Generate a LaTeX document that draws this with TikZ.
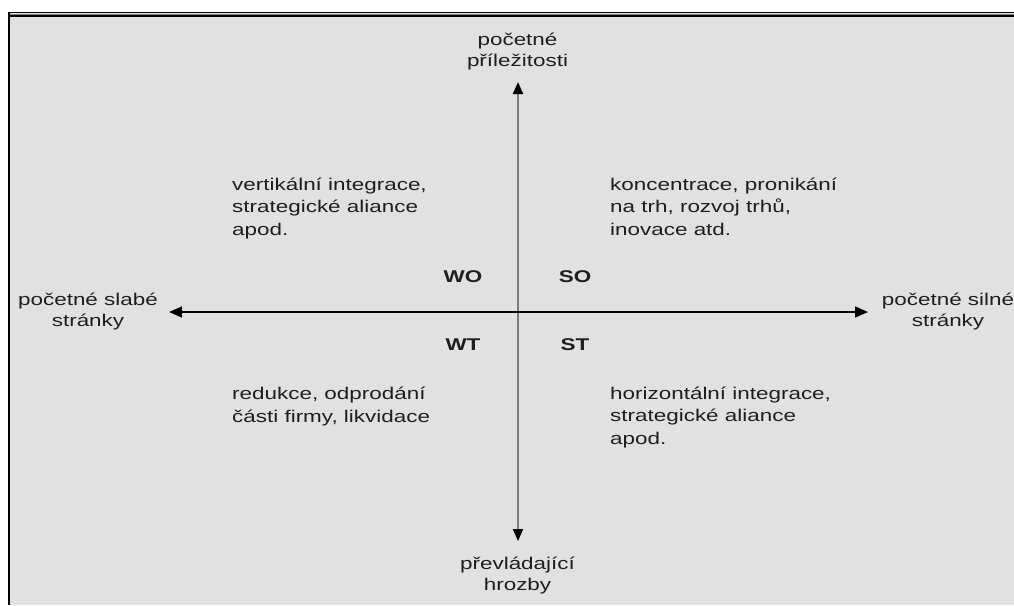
\documentclass[tikz,border=0pt]{standalone}
\usepackage{fontspec}
\setmainfont{Liberation Sans}[FakeStretch=1.32]
\usetikzlibrary{arrows.meta}
\definecolor{bg}{HTML}{E1E1E1}
\definecolor{txt}{HTML}{1E1E1E}
\definecolor{vline}{HTML}{7A7A7A}
\begin{document}
\begin{tikzpicture}[x=1pt,y=-1pt,
  lbl/.style={inner sep=0pt, text=txt},
  axlbl/.style={lbl, align=center, anchor=base, font=\fontsize{17}{21}\selectfont},
  quad/.style={lbl, align=left, anchor=base west, font=\fontsize{17}{22.5}\selectfont},
  tag/.style={lbl, anchor=base, font=\fontsize{17}{20}\selectfont\bfseries},
  axish/.style={draw=black, line width=1.3pt},
  axisv/.style={draw=vline, line width=2pt}]
\clip (0,0) rectangle (1014,605);
\fill[white] (0,0) rectangle (1014,605);
\fill[bg] (8,12) rectangle (1014,605);
% frame
\draw[black, line width=1.3pt] (8,12.7) -- (1014,12.7);
\draw[gray, line width=1.2pt] (8,14.4) -- (1014,14.4);
\draw[black, line width=1.3pt] (8,16) -- (1014,16);
\draw[black, line width=2pt] (9,12) -- (9,605);
% axes
\coordinate (N) at (518,82);
\coordinate (S) at (518,541);
\coordinate (W) at (169,312);
\coordinate (E) at (868,312);
\draw[axisv, {Triangle[length=12pt,width=10pt,color=black]}-{Triangle[length=12pt,width=10pt,color=black]}] (N) -- (S);
\draw[axish, {Triangle[length=13pt,width=11pt]}-{Triangle[length=13pt,width=11pt]}] (W) -- (E);
% axis labels (anchor = baseline of last line)
\node[axlbl] (top) at (517.5,66) {početné\\příležitosti};
\node[axlbl] (bot) at (517.5,590) {převládající\\hrozby};
\node[axlbl] (left) at (88,326) {početné slabé\\stránky};
\node[axlbl] (right) at (948,326) {početné silné\\stránky};
% tags
\node[tag] (wo) at (463,282) {WO};
\node[tag] (so) at (575,282) {SO};
\node[tag] (wt) at (463,350) {WT};
\node[tag] (st) at (575,350) {ST};
% quadrant texts (anchor = baseline of last line)
\node[quad] (q1) at (232,235) {vertikální integrace,\\strategické aliance\\apod.};
\node[quad] (q2) at (610,235) {koncentrace, pronikání\\na trh, rozvoj trhů,\\inovace atd.};
\node[quad] (q3) at (232,422) {redukce, odprodání\\části firmy, likvidace};
\node[quad] (q4) at (610,444) {horizontální integrace,\\strategické aliance\\apod.};
\end{tikzpicture}
\end{document}
